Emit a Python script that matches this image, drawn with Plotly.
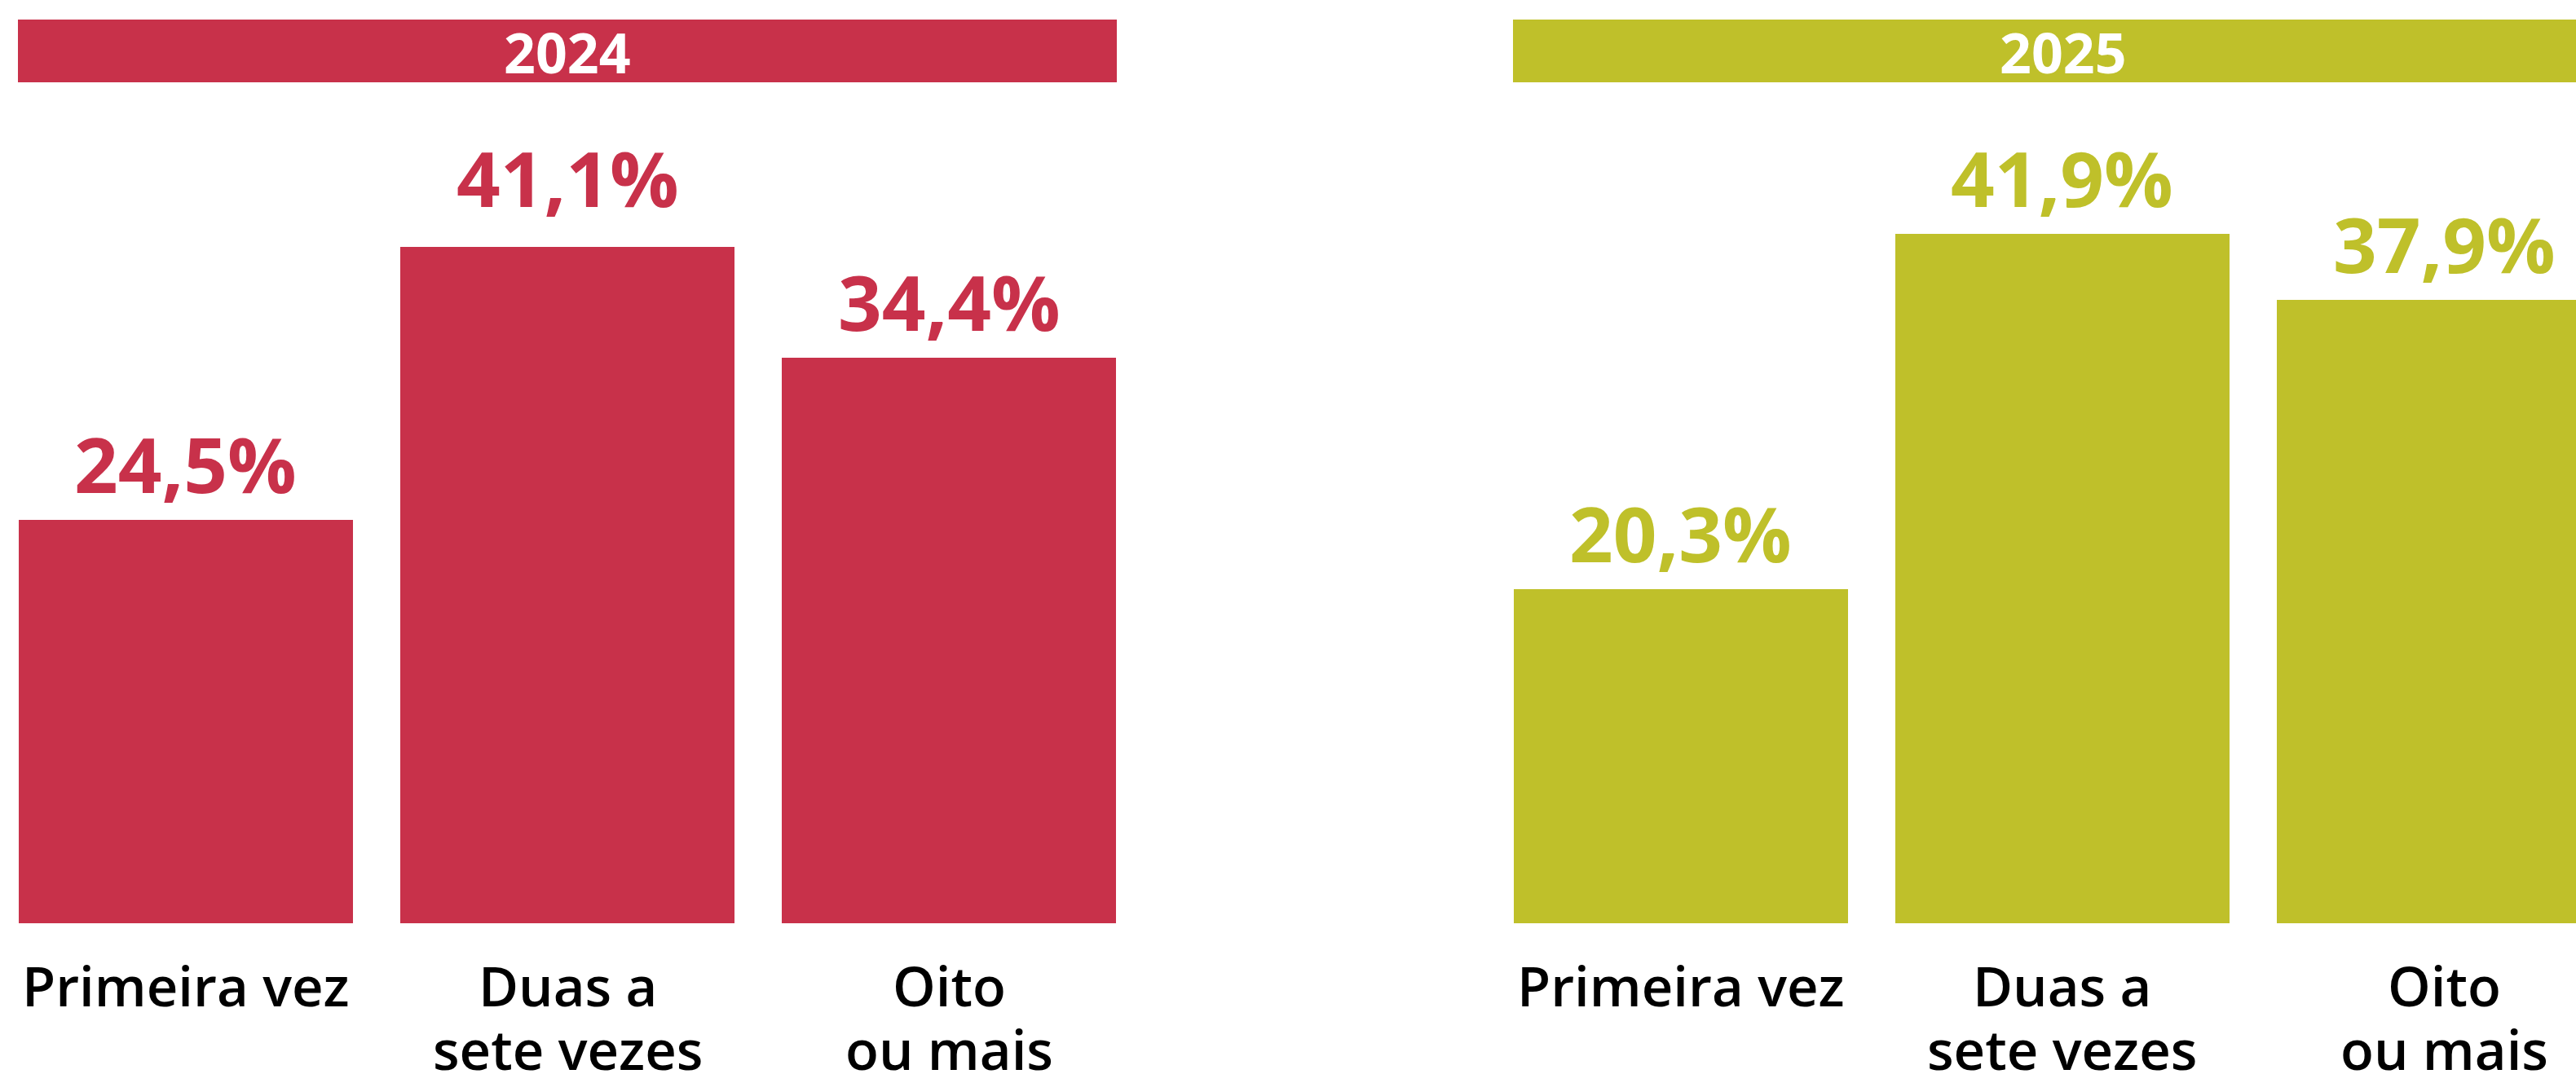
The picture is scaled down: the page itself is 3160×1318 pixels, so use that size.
import plotly.graph_objects as go

# ---- data ----
categories = ["Primeira vez", "Duas a<br>sete vezes", "Oito<br>ou mais"]
years = ["2024", "2025"]
values_2024 = [24.5, 41.1, 34.4]
values_2025 = [20.3, 41.9, 37.9]
labels_2024 = ["24,5%", "41,1%", "34,4%"]
labels_2025 = ["20,3%", "41,9%", "37,9%"]

# ---- style ----
W, H = 3160, 1318
RED = "#C8314A"
GREEN = "#BFC02A"
FONT = "Open Sans"
PLOT_H = 1133          # plot area height in px (bottom margin holds category labels)
BAR_W = 0.8747
Y_MAX = 56.12
label_yshift_2024 = [3, 19, 3]
label_yshift_2025 = [3, 3, 3]

def py(px):
    """pixel row (from top) -> paper y"""
    return 1 - px / PLOT_H

fig = go.Figure()
panels = [
    dict(vals=values_2024, labs=labels_2024, color=RED, year=years[0],
         dom=[23 / W, 1369 / W], rng=[-0.4373, 2.4373], xa="x", ya="y",
         bar=[22 / W, 1370 / W], title_x=696 / W, shifts=label_yshift_2024),
    dict(vals=values_2025, labs=labels_2025, color=GREEN, year=years[1],
         dom=[1857 / W, 1.0], rng=[-0.4373, 2.3457], xa="x2", ya="y2",
         bar=[1856 / W, 1.0], title_x=2531 / W, shifts=label_yshift_2025),
]

annotations = []
shapes = []
for p in panels:
    fig.add_trace(go.Bar(
        x=categories, y=p["vals"], width=BAR_W,
        marker=dict(color=p["color"], line=dict(width=0)),
        xaxis=p["xa"], yaxis=p["ya"], showlegend=False, hoverinfo="skip",
    ))
    # value labels
    for c, v, lab, s in zip(categories, p["vals"], p["labs"], p["shifts"]):
        annotations.append(dict(
            x=c, y=v, xref=p["xa"], yref=p["ya"], text=lab, showarrow=False,
            xanchor="center", yanchor="bottom", yshift=s,
            font=dict(family=FONT, size=94, color=p["color"], weight=700),
        ))
    # category labels (one annotation per line)
    for c in categories:
        for i, line in enumerate(c.split("<br>")):
            annotations.append(dict(
                x=c, y=py(1161 + 78 * i), xref=p["xa"], yref="paper",
                text=line, showarrow=False, xanchor="center", yanchor="top",
                font=dict(family=FONT, size=67, color="#000000", weight=600),
            ))
    # year header bar
    shapes.append(dict(type="rect", xref="paper", yref="paper",
                       x0=p["bar"][0], x1=p["bar"][1], y0=py(101), y1=py(24),
                       fillcolor=p["color"], line=dict(width=0), layer="above"))
    annotations.append(dict(
        x=p["title_x"],
        y=py(63), xref="paper", yref="paper", text=p["year"], showarrow=False,
        xanchor="center", yanchor="middle",
        font=dict(family=FONT, size=68, color="#FFFFFF", weight=700),
    ))

axis_x = dict(type="category", showgrid=False, zeroline=False, showline=False,
              showticklabels=False, ticks="", fixedrange=True)
axis_y = dict(range=[0, Y_MAX], showgrid=False, zeroline=False, showline=False,
              showticklabels=False, ticks="", fixedrange=True)

fig.update_layout(
    width=W, height=H,
    margin=dict(l=0, r=0, t=0, b=H - PLOT_H, pad=0),
    paper_bgcolor="#FFFFFF", plot_bgcolor="#FFFFFF",
    xaxis=dict(axis_x, domain=panels[0]["dom"], range=panels[0]["rng"]),
    xaxis2=dict(axis_x, domain=panels[1]["dom"], range=panels[1]["rng"], anchor="y2"),
    yaxis=dict(axis_y, anchor="x"),
    yaxis2=dict(axis_y, anchor="x2"),
    bargap=0,
    annotations=annotations,
    shapes=shapes,
    font=dict(family=FONT),
)

fig.write_html(
    "out.html",
    config=dict(displayModeBar=False),
    post_script="document.body.style.margin='0';document.body.style.overflow='hidden';",
)
